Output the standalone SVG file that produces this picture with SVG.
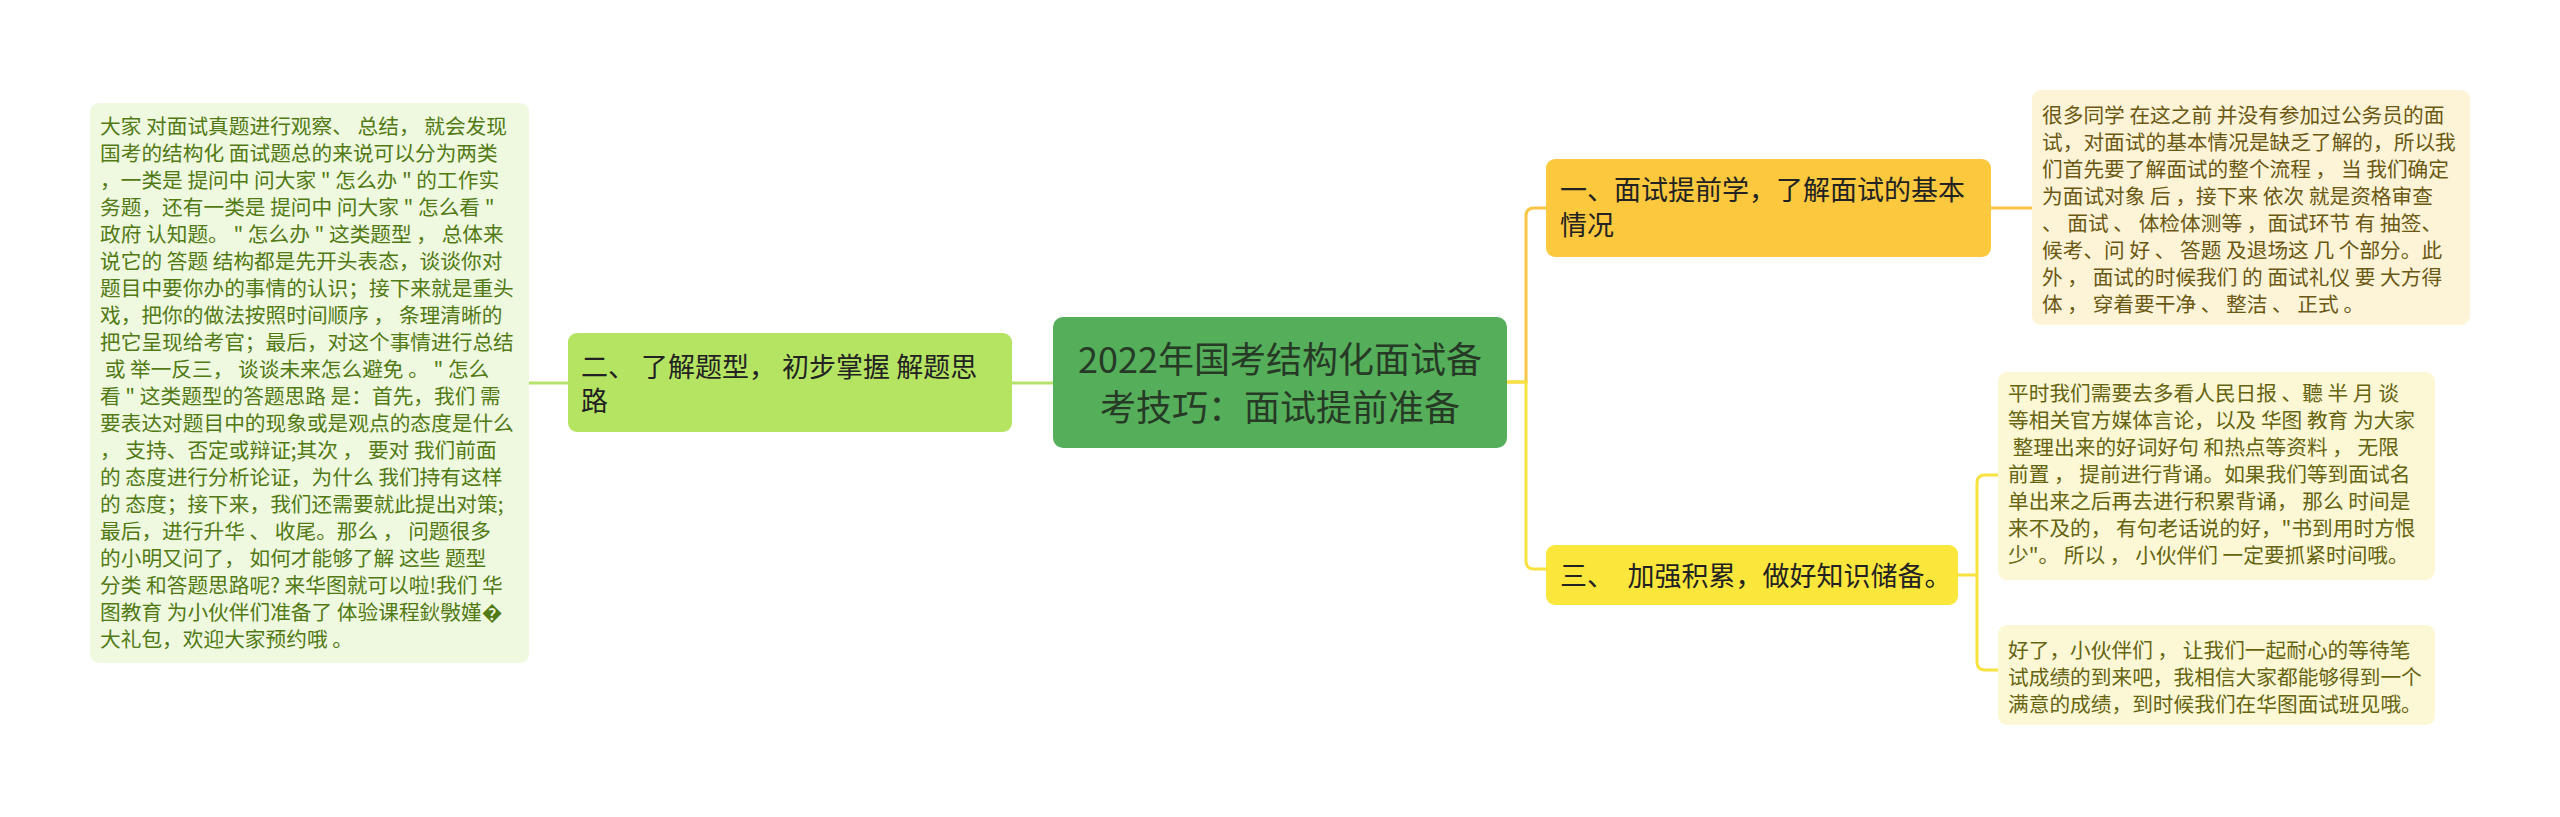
<svg xmlns="http://www.w3.org/2000/svg" width="2560" height="817" viewBox="0 0 2560 817">
<style>
text{font-family:"Noto Sans CJK SC","Noto Sans",sans-serif;white-space:pre}
.body{font-size:20.7px}
.l1{font-size:27px;fill:#222}
.root{font-size:36px;fill:#263a26}
.conn{fill:none;stroke-width:3;stroke-linecap:round}
</style>
<rect width="2560" height="817" fill="#ffffff"/>
<g id="connectors">
<path class="conn" stroke="#b5e26a" d="M528,383 H568 M1012,383 H1053"/>
<path class="conn" stroke="#f6c644" d="M1507,382 H1526 V216 Q1526,208 1534,208 H1547"/>
<path class="conn" stroke="#f7e23f" d="M1507,382 H1526 V561 Q1526,569 1534,569 H1547"/>
<path class="conn" stroke="#f6c644" d="M1991,208 H2032"/>
<path class="conn" stroke="#f7e23f" d="M1958,575 H1977 V483 Q1977,475 1985,475 H1998 M1977,575 V662 Q1977,670 1985,670 H1998"/>
</g>
<g id="root">
<rect x="1053" y="317" width="454" height="131" rx="10" fill="#55ae5a"/>
<text class="root" x="1280" y="373" text-anchor="middle">2022年国考结构化面试备</text>
<text class="root" x="1280" y="421" text-anchor="middle">考技巧：面试提前准备</text>
</g>
<g id="node-1">
<rect x="1546" y="159" width="445" height="98" rx="9" fill="#fbc83e"/>
<text class="l1" x="1560" y="200">一、面试提前学，了解面试的基本</text>
<text class="l1" x="1560" y="235">情况</text>
</g>
<g id="node-2">
<rect x="568" y="333" width="444" height="99" rx="9" fill="#b5e463"/>
<text class="l1" x="581" y="377">二、 了解题型， 初步掌握 解题思</text>
<text class="l1" x="581" y="411">路</text>
</g>
<g id="node-3">
<rect x="1546" y="545" width="412" height="60" rx="9" fill="#fbe63c"/>
<text class="l1" x="1560" y="586">三、　加强积累，做好知识储备。</text>
</g>
<g id="detail-2">
<rect x="90" y="103" width="439" height="560" rx="9" fill="#eff9e0"/>
<g class="body" fill="#527a14">
<text x="100" y="134">大家 对面试真题进行观察、 总结， 就会发现</text>
<text x="100" y="161">国考的结构化 面试题总的来说可以分为两类</text>
<text x="100" y="188">，一类是 提问中 问大家 " 怎么办 " 的工作实</text>
<text x="100" y="215">务题，还有一类是 提问中 问大家 " 怎么看 "</text>
<text x="100" y="242">政府 认知题。 " 怎么办 " 这类题型 ， 总体来</text>
<text x="100" y="269">说它的 答题 结构都是先开头表态，谈谈你对</text>
<text x="100" y="296">题目中要你办的事情的认识；接下来就是重头</text>
<text x="100" y="323">戏，把你的做法按照时间顺序 ， 条理清晰的</text>
<text x="100" y="350">把它呈现给考官；最后，对这个事情进行总结</text>
<text x="100" y="377"> 或 举一反三， 谈谈未来怎么避免 。 " 怎么</text>
<text x="100" y="404">看 " 这类题型的答题思路 是：首先，我们 需</text>
<text x="100" y="431">要表达对题目中的现象或是观点的态度是什么</text>
<text x="100" y="458">， 支持、否定或辩证;其次 ， 要对 我们前面</text>
<text x="100" y="485">的 态度进行分析论证，为什么 我们持有这样</text>
<text x="100" y="512">的 态度；接下来，我们还需要就此提出对策;</text>
<text x="100" y="539">最后，进行升华 、 收尾。那么 ， 问题很多</text>
<text x="100" y="566">的小明又问了， 如何才能够了解 这些 题型</text>
<text x="100" y="593">分类 和答题思路呢? 来华图就可以啦!我们 华</text>
<text x="100" y="620">图教育 为小伙伴们准备了 体验课程鈥斅嫤�</text>
<text x="100" y="647">大礼包，欢迎大家预约哦 。</text>
</g>
</g>
<g id="detail-1">
<rect x="2032" y="90" width="438" height="235" rx="9" fill="#fdf4d8"/>
<g class="body" fill="#6b5812">
<text x="2042" y="123">很多同学 在这之前 并没有参加过公务员的面</text>
<text x="2042" y="150">试，对面试的基本情况是缺乏了解的，所以我</text>
<text x="2042" y="177">们首先要了解面试的整个流程 ， 当 我们确定</text>
<text x="2042" y="204">为面试对象 后 ，接下来 依次 就是资格审查</text>
<text x="2042" y="231">、 面试 、 体检体测等 ，面试环节 有 抽签、</text>
<text x="2042" y="258">候考、问 好 、 答题 及退场这 几 个部分。此</text>
<text x="2042" y="285">外 ， 面试的时候我们 的 面试礼仪 要 大方得</text>
<text x="2042" y="312">体 ， 穿着要干净 、 整洁 、 正式 。</text>
</g>
</g>
<g id="detail-3a">
<rect x="1998" y="372" width="437" height="208" rx="9" fill="#fcf8d6"/>
<g class="body" fill="#666410">
<text x="2008" y="401">平时我们需要去多看人民日报 、聽 半 月 谈</text>
<text x="2008" y="428">等相关官方媒体言论，以及 华图 教育 为大家</text>
<text x="2008" y="455"> 整理出来的好词好句 和热点等资料 ， 无限</text>
<text x="2008" y="482">前置 ， 提前进行背诵。如果我们等到面试名</text>
<text x="2008" y="509">单出来之后再去进行积累背诵， 那么 时间是</text>
<text x="2008" y="536">来不及的， 有句老话说的好，"书到用时方恨</text>
<text x="2008" y="563">少"。 所以 ， 小伙伴们 一定要抓紧时间哦。</text>
</g>
</g>
<g id="detail-3b">
<rect x="1998" y="625" width="437" height="100" rx="9" fill="#fcf8d6"/>
<g class="body" fill="#666410">
<text x="2008" y="658">好了，小伙伴们 ， 让我们一起耐心的等待笔</text>
<text x="2008" y="685">试成绩的到来吧，我相信大家都能够得到一个</text>
<text x="2008" y="712">满意的成绩，到时候我们在华图面试班见哦。</text>
</g>
</g>
</svg>
